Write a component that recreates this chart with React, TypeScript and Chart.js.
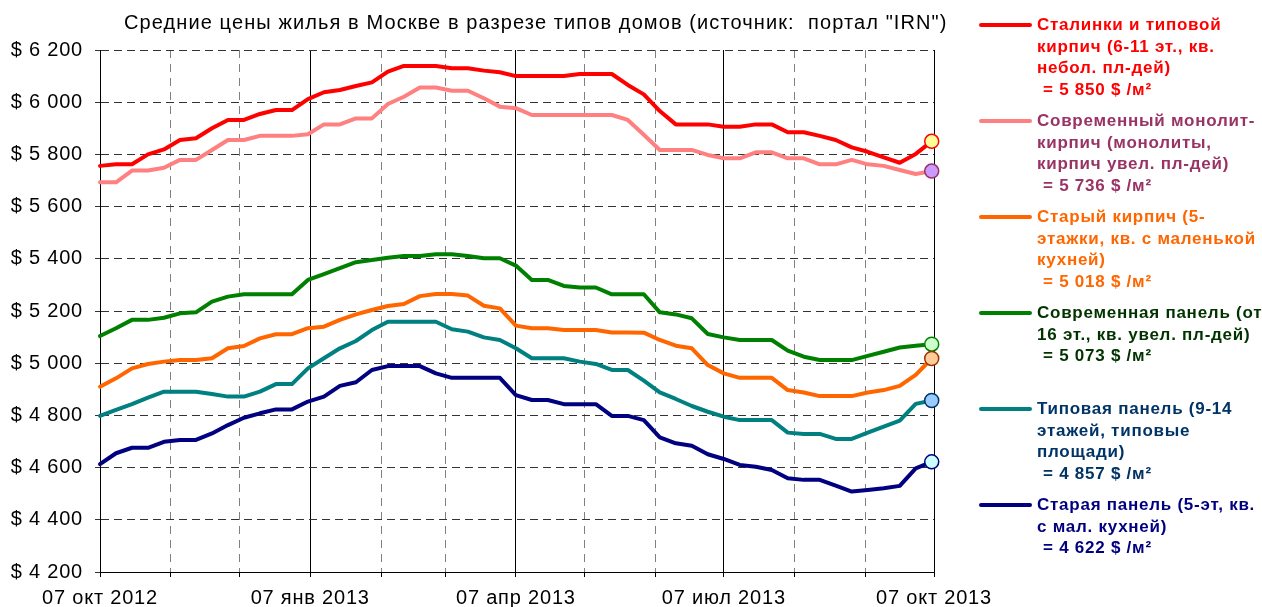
import React, { useEffect, useRef } from "react";
import { Chart, registerables } from "chart.js";

Chart.register(...registerables);

const TITLE = 'Средние цены жилья в Москве в разрезе типов домов (источник:  портал "IRN")';

// Weekly observations starting 07 Oct 2012
const START = Date.UTC(2012, 9, 7);
const WEEK_COUNT = 53;
const weekDays = Array.from({ length: WEEK_COUNT }, (_, i) => i * 7);

const monthNames = ["янв", "фев", "мар", "апр", "май", "июн", "июл", "авг", "сен", "окт", "ноя", "дек"];
const monthTicks = Array.from({ length: 13 }, (_, m) => {
  const d = new Date(Date.UTC(2012, 9 + m, 7));
  return {
    value: Math.round((d.getTime() - START) / 86400000),
    quarter: m % 3 === 0,
    label: m % 3 === 0 ? `07 ${monthNames[d.getUTCMonth()]} ${d.getUTCFullYear()}` : "",
  };
});

const yMin = 4200;
const yMax = 6200;
const yStep = 200;

// Series values ($ per m²)
const stalinki = [
  5756, 5762, 5762, 5800, 5819, 5855, 5862, 5900, 5932, 5932, 5955, 5970, 5970, 6012,
  6038, 6047, 6062, 6076, 6117, 6139, 6139, 6139, 6130, 6130, 6121, 6115, 6100, 6100,
  6100, 6100, 6108, 6108, 6108, 6066, 6030, 5966, 5915, 5915, 5915, 5906, 5906, 5915,
  5915, 5885, 5885, 5871, 5855, 5827, 5810, 5789, 5768, 5802, 5850,
];
const monolit = [
  5693, 5693, 5738, 5738, 5749, 5779, 5779, 5817, 5855, 5855, 5871, 5871, 5871, 5877,
  5915, 5915, 5938, 5938, 5993, 6021, 6056, 6056, 6044, 6044, 6015, 5983, 5977, 5951,
  5951, 5951, 5951, 5951, 5951, 5932, 5875, 5817, 5817, 5817, 5798, 5785, 5785, 5808,
  5808, 5785, 5785, 5762, 5762, 5779, 5762, 5756, 5740, 5725, 5736,
];
const oldBrick = [
  4910, 4942, 4980, 4997, 5006, 5012, 5012, 5019, 5057, 5066, 5095, 5111, 5111, 5134,
  5140, 5166, 5187, 5204, 5219, 5227, 5257, 5265, 5265, 5259, 5220, 5210, 5144, 5134,
  5134, 5127, 5127, 5127, 5118, 5118, 5117, 5089, 5067, 5057, 4993, 4961, 4944, 4944,
  4944, 4897, 4888, 4874, 4874, 4874, 4888, 4897, 4913, 4955, 5018,
];
const modernPanel = [
  5104, 5134, 5166, 5166, 5174, 5191, 5195, 5236, 5255, 5264, 5264, 5264, 5264, 5319,
  5341, 5364, 5387, 5395, 5404, 5411, 5411, 5417, 5417, 5411, 5402, 5402, 5374, 5319,
  5319, 5296, 5290, 5290, 5264, 5264, 5264, 5195, 5187, 5172, 5112, 5099, 5089, 5089,
  5089, 5048, 5025, 5012, 5012, 5012, 5028, 5044, 5060, 5067, 5073,
];
const typicalPanel = [
  4798, 4821, 4843, 4868, 4891, 4891, 4891, 4882, 4872, 4872, 4891, 4920, 4920, 4980,
  5019, 5057, 5085, 5127, 5159, 5159, 5159, 5159, 5130, 5121, 5099, 5089, 5057, 5019,
  5019, 5019, 5006, 4997, 4974, 4974, 4933, 4888, 4863, 4836, 4814, 4795, 4782, 4782,
  4782, 4734, 4729, 4729, 4710, 4710, 4734, 4757, 4780, 4844, 4857,
];
const oldPanel = [
  4613, 4655, 4676, 4676, 4699, 4706, 4706, 4731, 4763, 4791, 4808, 4823, 4823, 4853,
  4872, 4913, 4927, 4974, 4989, 4989, 4989, 4961, 4944, 4944, 4944, 4944, 4878, 4859,
  4859, 4843, 4843, 4843, 4798, 4798, 4782, 4716, 4693, 4684, 4651, 4633, 4610, 4603,
  4591, 4559, 4553, 4553, 4531, 4508, 4514, 4521, 4530, 4597, 4622,
];

const seriesValues = [stalinki, monolit, oldBrick, modernPanel, typicalPanel, oldPanel];

const seriesNames = [
  ["Сталинки и типовой", "кирпич (6-11 эт., кв.", "небол. пл-дей)"],
  ["Современный монолит-", "кирпич (монолиты,", "кирпич увел. пл-дей)"],
  ["Старый кирпич (5-", "этажки, кв. с маленькой", "кухней)"],
  ["Современная панель (от", "16 эт., кв. увел. пл-дей)"],
  ["Типовая панель (9-14", "этажей, типовые", "площади)"],
  ["Старая панель (5-эт, кв.", "с мал. кухней)"],
];

const lineColors = ["#FF0000", "#FF8080", "#FF6600", "#008000", "#008080", "#000080"];
const textColors = ["#FF0000", "#993366", "#FF6600", "#003300", "#003366", "#000080"];
const markerFill = ["#FFFF99", "#CC99FF", "#FFCC99", "#CCFFCC", "#99CCFF", "#CCFFFF"];
const markerBorder = ["#FF0000", "#993366", "#993300", "#008000", "#003366", "#000080"];

const FONT = '"Liberation Sans", Arial, sans-serif';

const fmtThousands = (v: number) => {
  const r = Math.round(v);
  const th = Math.floor(r / 1000);
  const rest = String(r % 1000).padStart(3, "0");
  return th > 0 ? `${th} ${rest}` : String(r);
};

const letterSpacingPlugin = {
  id: "letterSpacing",
  beforeDraw(chart: any) {
    try {
      (chart.ctx as any).letterSpacing = "0.8px";
    } catch (e) {
      /* ignore */
    }
  },
};

export default function App() {
  const canvasRef = useRef<HTMLCanvasElement | null>(null);

  useEffect(() => {
    const canvas = canvasRef.current;
    if (!canvas) return;
    const last = WEEK_COUNT - 1;
    const quarterValues = new Set(monthTicks.filter((t) => t.quarter).map((t) => t.value));
    const chart = new Chart(canvas, {
      type: "line",
      plugins: [letterSpacingPlugin],
      data: {
        datasets: seriesValues.map((vals, si) => ({
          label: seriesNames[si].join(" "),
          data: vals.map((v, i) => ({ x: weekDays[i], y: v })),
          borderColor: lineColors[si],
          backgroundColor: lineColors[si],
          borderWidth: 4,
          borderJoinStyle: "round" as const,
          borderCapStyle: "round" as const,
          tension: 0,
          fill: false,
          clip: false as any,
          pointRadius: (ctx: any) => (ctx.dataIndex === last ? 7 : 0),
          pointBackgroundColor: markerFill[si],
          pointBorderColor: markerBorder[si],
          pointBorderWidth: 1.5,
          pointHoverRadius: 0,
        })),
      },
      options: {
        responsive: false,
        animation: false,
        events: [],
        layout: { padding: { left: 0, right: 1262 - 934, top: 50, bottom: 0 } },
        plugins: {
          legend: { display: false },
          title: { display: false },
          tooltip: { enabled: false },
        },
        scales: {
          x: {
            type: "linear",
            min: 0,
            max: monthTicks[monthTicks.length - 1].value,
            afterFit: (s: any) => {
              s.height = 35;
            },
            afterBuildTicks: (s: any) => {
              s.ticks = monthTicks.map((t) => ({ value: t.value }));
            },
            ticks: {
              autoSkip: false,
              maxRotation: 0,
              minRotation: 0,
              padding: 9,
              color: "#000",
              font: { family: FONT, size: 20 },
              callback: (v: any) => {
                const t = monthTicks.find((m) => m.value === v);
                return t ? t.label : "";
              },
            },
            grid: {
              color: (ctx: any) => (ctx.tick && quarterValues.has(ctx.tick.value) ? "#000" : "#808080"),
              tickColor: "#000",
              tickLength: 5,
              lineWidth: 1,
            },
            border: {
              display: true,
              color: "#000",
              width: 1,
              dash: (ctx: any) => (ctx.tick && quarterValues.has(ctx.tick.value) ? [] : [8, 6]),
            },
          },
          y: {
            min: yMin,
            max: yMax,
            afterFit: (s: any) => {
              s.width = 100;
            },
            ticks: {
              stepSize: yStep,
              padding: 12,
              color: "#000",
              font: { family: FONT, size: 20 },
              callback: (v: any) => `$ ${fmtThousands(Number(v))}`,
            },
            grid: {
              color: "#333",
              tickLength: 5,
              lineWidth: 1,
            },
            border: {
              display: true,
              color: "#000",
              width: 1,
              dash: [8, 5],
            },
          },
        },
      },
    });
    return () => chart.destroy();
  }, []);

  return (
    <div
      style={{
        position: "absolute",
        left: 0,
        top: 0,
        width: 1262,
        height: 607,
        background: "#fff",
        overflow: "hidden",
        fontFamily: FONT,
      }}
    >
      <canvas ref={canvasRef} width={1262} height={607} style={{ position: "absolute", left: 0, top: 0 }} />
      <div
        style={{
          position: "absolute",
          left: 124,
          top: 10,
          fontSize: 20,
          lineHeight: "24px",
          whiteSpace: "pre",
          color: "#000",
          letterSpacing: "1.1px",
        }}
      >
        {TITLE}
      </div>
      {seriesNames.map((lines, si) => {
        const lastVal = seriesValues[si][seriesValues[si].length - 1];
        return (
          <div
            key={si}
            style={{
              position: "absolute",
              left: 1037,
              top: 14 + si * 96,
              width: 240,
              fontSize: 17,
              fontWeight: "bold",
              lineHeight: "21.5px",
              letterSpacing: "0.75px",
              color: textColors[si],
              whiteSpace: "pre",
            }}
          >
            <div
              style={{
                position: "absolute",
                left: 979 - 1037,
                top: 9,
                width: 53,
                height: 4,
                borderRadius: 2,
                background: lineColors[si],
              }}
            />
            {lines.map((l, li) => (
              <div key={li}>{l}</div>
            ))}
            <div style={{ paddingLeft: 6 }}>{`= ${fmtThousands(lastVal)} $ /м²`}</div>
          </div>
        );
      })}
    </div>
  );
}
